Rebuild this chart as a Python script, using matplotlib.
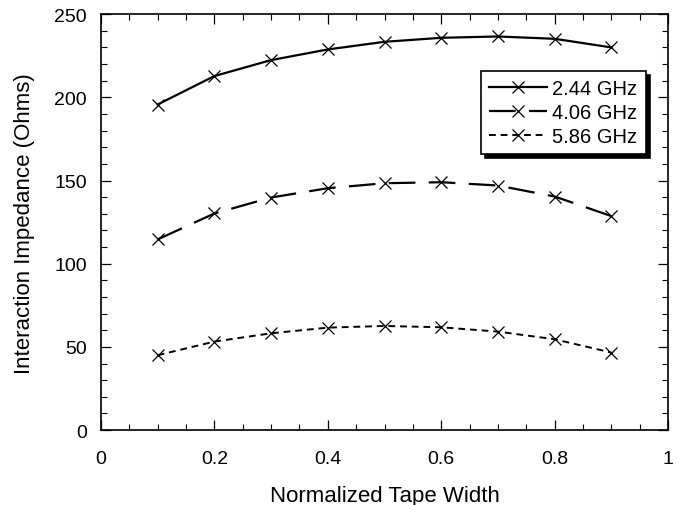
import numpy as np
import matplotlib
matplotlib.use('Agg')
import matplotlib.pyplot as plt
from matplotlib.ticker import MultipleLocator

plt.rcParams['font.family'] = ['Liberation Sans', 'DejaVu Sans']

# Normalized tape width
width = [0.1, 0.2, 0.3, 0.4, 0.5, 0.6, 0.7, 0.8, 0.9]

# Interaction impedance (Ohms) per frequency
z_244 = [195.7, 212.8, 222.4, 228.8, 233.4, 235.8, 236.6, 235.2, 230.0]
z_406 = [114.6, 130.2, 139.8, 145.4, 148.4, 149.0, 147.0, 140.4, 128.6]
z_586 = [45.0, 53.2, 58.2, 61.6, 62.6, 61.8, 59.2, 54.6, 46.6]

labels = ['2.44 GHz', '4.06 GHz', '5.86 GHz']

fig = plt.figure(figsize=(6.77, 5.06), dpi=100)
ax = fig.add_axes([0.149, 0.148, 0.838, 0.822])

ax.plot(width, z_244, color='black', lw=1.6, marker='x', ms=8, mew=0.9,
        label=labels[0])
ax.plot(width, z_406, color='black', lw=1.6, marker='x', ms=8, mew=0.9,
        dashes=(12, 6), label=labels[1])
ax.plot(width, z_586, color='black', lw=1.4, marker='x', ms=8, mew=0.9,
        dashes=(3.5, 2.5), label=labels[2])

ax.set_xlim(0, 1)
ax.set_ylim(0, 250)
ax.xaxis.set_major_locator(MultipleLocator(0.2))
ax.xaxis.set_minor_locator(MultipleLocator(0.05))
ax.yaxis.set_major_locator(MultipleLocator(50))
ax.yaxis.set_minor_locator(MultipleLocator(10))
ax.xaxis.set_major_formatter(plt.FuncFormatter(lambda v, p: '%g' % v))
ax.tick_params(which='both', direction='in', top=True, right=True,
               labelsize=14)
ax.tick_params(axis='x', pad=14)
ax.tick_params(axis='y', pad=10)
ax.tick_params(which='major', length=7, width=0.9)
ax.tick_params(which='minor', length=4, width=0.8)
for s in ax.spines.values():
    s.set_linewidth(1.2)

ax.set_xlabel('Normalized Tape Width', fontsize=16, labelpad=13)
ax.set_ylabel('Interaction Impedance (Ohms)', fontsize=16, labelpad=14)

leg = ax.legend(loc='upper right', bbox_to_anchor=(0.96, 0.864),
                fontsize=14.5, fancybox=False, framealpha=1,
                edgecolor='black', handlelength=2.9, handletextpad=0.25,
                borderpad=0.4, labelspacing=0.25, borderaxespad=0,
                shadow={'color': 'black', 'alpha': 1, 'ox': 3, 'oy': -3})
leg.get_frame().set_linewidth(1.2)

fig.savefig('out.png', dpi=100)
